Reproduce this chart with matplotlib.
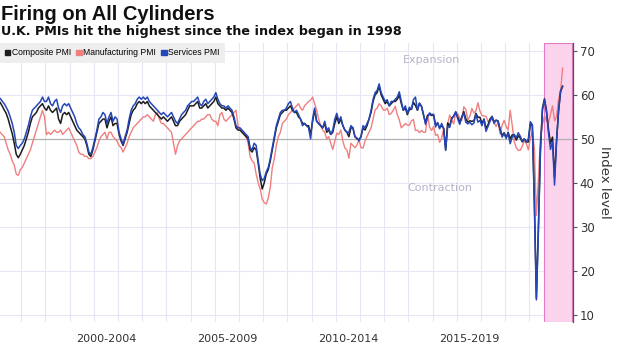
import numpy as np
import matplotlib
matplotlib.use("Agg")
import matplotlib.pyplot as plt
from matplotlib.patches import Patch
from matplotlib import font_manager

# monthly PMI readings, Jan 1998 - May 2021
services = [
    59.5, 59.2, 58.6, 58.0, 57.2, 56.3, 55.0, 53.5, 51.5, 48.5, 47.8, 48.5,  # 1998
    49.0, 50.0, 51.5, 53.0, 55.0, 56.5, 57.0, 57.5, 58.0, 58.5, 59.5, 58.5,  # 1999
    58.5, 59.5, 58.0, 57.5, 58.5, 59.0, 57.0, 56.0, 57.5, 58.0, 57.5, 58.0,  # 2000
    57.0, 56.0, 55.0, 53.5, 52.5, 52.0, 51.0, 50.5, 49.0, 47.0, 46.5, 48.0,  # 2001
    50.0, 52.0, 54.5, 55.0, 56.0, 55.5, 53.5, 55.0, 56.0, 54.0, 55.0, 54.5,  # 2002
    51.5, 50.0, 48.8, 50.5, 52.0, 54.5, 56.5, 57.5, 58.0, 59.0, 59.5, 59.0,  # 2003
    59.5, 59.0, 59.5, 58.5, 58.0, 57.5, 57.0, 56.5, 56.0, 55.5, 56.0, 55.5,  # 2004
    55.0, 55.5, 56.0, 55.0, 54.0, 53.5, 54.5, 55.5, 56.0, 56.5, 57.5, 58.0,  # 2005
    58.5, 58.5, 59.0, 59.5, 58.0, 57.5, 58.5, 59.0, 58.0, 58.5, 59.0, 59.5,  # 2006
    60.5, 59.0, 58.0, 57.5, 57.5, 57.0, 57.5, 57.0, 56.5, 55.0, 53.0, 52.5,  # 2007
    52.5, 52.0, 51.5, 51.0, 50.5, 48.0, 47.5, 49.0, 48.5, 45.0, 42.0, 40.5,  # 2008
    41.0, 42.5, 43.5, 45.5, 48.0, 50.5, 53.0, 54.5, 56.0, 56.5, 56.5, 57.0,  # 2009
    58.0, 58.5, 57.0, 56.0, 56.5, 55.5, 54.5, 53.0, 53.5, 53.0, 52.5, 50.0,  # 2010
    54.5, 57.0, 54.0, 53.5, 53.0, 52.5, 54.0, 52.0, 52.5, 51.0, 52.0, 54.5,  # 2011
    55.8, 54.0, 55.0, 53.0, 52.0, 51.5, 51.5, 53.0, 52.5, 50.5, 50.2, 49.5,  # 2012
    50.5, 53.0, 52.5, 53.5, 54.5, 56.5, 59.0, 60.5, 61.0, 62.5, 60.5, 59.5,  # 2013
    58.5, 58.9, 57.5, 58.5, 58.5, 59.0, 59.5, 60.7, 58.5, 56.5, 57.5, 55.8,  # 2014
    57.2, 56.7, 58.9, 59.5, 56.5, 58.1, 57.4, 55.6, 53.3, 54.9, 55.9, 55.5,  # 2015
    55.6, 52.7, 53.7, 52.3, 53.5, 52.3, 47.4, 52.9, 52.6, 54.5, 55.2, 56.2,  # 2016
    54.5, 53.3, 55.0, 55.8, 53.8, 53.4, 53.8, 53.2, 53.6, 55.6, 53.8, 54.2,  # 2017
    53.0, 54.5, 51.7, 52.8, 54.0, 55.1, 53.5, 54.3, 53.9, 52.2, 50.4, 51.2,  # 2018
    50.1, 51.3, 48.9, 50.4, 51.0, 50.2, 51.4, 50.6, 49.5, 50.0, 49.3, 50.0,  # 2019
    53.9, 53.2, 34.5, 13.4, 29.0, 47.1, 56.5, 58.8, 56.1, 51.4, 47.6, 49.4,  # 2020
    39.5, 49.5, 56.3, 61.0, 61.8,                                            # 2021
]
composite = [
    58.6, 58.3, 57.5, 56.6, 55.8, 54.5, 52.8, 51.2, 49.0, 46.5, 45.7, 46.5,
    47.5, 48.5, 50.0, 51.5, 53.5, 55.0, 55.5, 56.0, 57.0, 57.5, 58.0, 57.0,
    56.5, 57.5, 56.5, 56.0, 56.5, 57.0, 54.5, 53.5, 55.5, 56.0, 55.5, 56.0,
    55.0, 54.0, 53.0, 52.0, 51.5, 51.0, 50.5, 50.0, 48.5, 46.5, 46.0, 47.5,
    49.5, 51.5, 53.5, 54.0, 54.5, 54.5, 52.5, 54.0, 55.0, 53.0, 53.5, 53.5,
    51.0, 49.5, 48.5, 50.0, 51.5, 53.5, 55.5, 56.5, 57.0, 58.0, 58.5, 58.0,
    58.5, 58.0, 58.5, 57.5, 57.0, 56.5, 56.0, 55.5, 55.0, 54.5, 55.0, 54.5,
    54.0, 54.5, 55.0, 54.0, 53.0, 53.0, 54.0, 54.5, 55.0, 55.5, 56.5, 57.5,
    57.5, 57.5, 58.0, 58.5, 57.0, 57.0, 57.5, 58.0, 57.0, 57.5, 58.0, 58.5,
    59.5, 58.0, 57.5, 57.0, 57.0, 56.5, 57.0, 56.5, 56.0, 54.5, 52.5, 52.0,
    52.0, 51.5, 51.0, 50.5, 50.0, 47.5, 47.0, 48.0, 47.5, 44.5, 41.0, 38.6,
    40.0, 42.0, 43.0, 45.0, 47.5, 50.0, 52.5, 54.0, 55.5, 56.0, 56.5, 56.5,
    57.0, 57.5, 56.5, 56.0, 56.0, 55.0, 54.5, 53.5, 53.5, 53.0, 53.0, 51.0,
    54.0, 56.5, 54.0, 53.5, 53.0, 52.5, 53.5, 51.5, 52.0, 51.0, 51.5, 53.5,
    55.0, 53.5, 54.5, 53.0, 52.0, 51.5, 50.5, 52.5, 52.5, 50.5, 50.0, 49.8,
    50.5, 52.5, 52.0, 53.0, 54.5, 56.0, 58.5, 60.0, 60.5, 62.0, 60.0, 59.0,
    58.0, 58.5, 57.5, 58.0, 58.5, 58.5, 59.0, 60.0, 58.0, 56.5, 57.0, 55.5,
    56.7, 56.7, 58.3, 57.6, 56.5, 58.1, 57.4, 55.4, 53.7, 55.3, 55.6, 55.3,
    55.4, 53.2, 53.6, 52.5, 53.0, 52.4, 47.5, 53.6, 52.9, 54.7, 55.2, 56.0,
    54.9, 53.8, 54.9, 56.2, 54.5, 53.8, 54.1, 54.0, 54.1, 55.8, 54.9, 54.9,
    53.5, 54.5, 52.4, 53.2, 54.5, 55.1, 53.9, 54.2, 54.1, 52.1, 50.8, 51.4,
    50.3, 51.5, 50.0, 50.9, 50.9, 49.7, 50.7, 50.2, 49.3, 50.0, 49.3, 49.3,
    53.3, 53.0, 36.0, 13.8, 30.0, 47.7, 57.0, 59.1, 56.5, 52.1, 49.0, 50.4,
    41.2, 49.6, 56.4, 60.7, 62.0,
]
manufacturing = [
    52.0, 51.5, 51.0, 50.5, 49.0, 47.5, 46.5, 45.0, 44.0, 42.0, 41.7, 43.0,
    43.5, 44.5, 45.5, 46.5, 47.5, 49.0, 50.5, 52.0, 53.5, 55.0, 56.5, 55.0,
    51.0, 51.5, 51.0, 51.5, 52.0, 51.5, 51.5, 52.0, 51.0, 51.5, 52.0, 52.5,
    51.5, 50.5, 49.5, 48.5, 47.0, 46.5, 46.5, 46.0, 46.0, 45.5, 45.5, 46.0,
    47.0, 48.0, 49.5, 50.5, 51.0, 51.5, 50.0, 51.5, 51.5, 50.5, 50.0, 49.5,
    48.5, 48.0, 47.0, 48.0, 49.0, 50.5, 51.5, 52.5, 53.0, 53.5, 54.0, 54.5,
    55.0, 55.0, 55.5, 55.0, 54.5, 54.0, 55.5, 56.0, 54.5, 53.5, 53.5, 53.0,
    52.5, 52.0, 51.5, 49.0, 46.5, 48.5, 49.5, 50.0, 50.5, 51.0, 51.5, 52.0,
    52.5, 53.0, 53.5, 54.0, 54.0, 54.5, 54.5, 55.0, 55.5, 55.5, 54.5, 54.0,
    54.0, 53.0, 55.5, 56.0, 54.5, 54.0, 54.5, 55.0, 55.5, 56.0, 56.5, 53.0,
    52.0, 51.5, 51.0, 50.5, 49.0, 46.0, 45.0, 44.5, 42.0, 40.0, 38.6, 36.3,
    35.5, 35.2, 36.5, 39.0, 43.5, 45.5, 48.5, 50.5, 51.5, 53.5, 54.0, 54.5,
    55.5, 56.0, 56.5, 57.0, 57.5, 58.0, 57.0, 56.5, 57.5, 58.0, 58.5, 58.8,
    59.5, 58.0, 56.5, 54.5, 53.0, 52.0, 51.5, 50.0, 50.5, 49.0, 47.6, 49.5,
    51.3, 51.0, 52.0, 49.5, 47.9, 47.5, 45.6, 49.0, 48.5, 48.0, 48.6, 49.8,
    48.0, 47.9, 49.5, 50.6, 51.5, 52.5, 54.5, 56.6, 57.0, 58.0, 57.5, 56.6,
    56.5, 57.0, 55.5, 55.8, 56.5, 57.4, 55.5, 54.3, 52.5, 53.0, 53.5, 53.1,
    53.1, 54.1, 54.4, 51.9, 52.0, 51.4, 51.9, 51.5, 51.5, 55.5, 52.7, 51.9,
    52.8, 50.8, 51.0, 49.2, 50.1, 52.4, 48.3, 53.4, 55.4, 54.3, 53.4, 56.1,
    55.7, 54.6, 54.2, 57.3, 56.7, 54.3, 55.1, 56.9, 55.9, 56.3, 58.2, 56.3,
    55.3, 55.2, 55.1, 53.9, 54.4, 54.4, 53.8, 52.8, 53.8, 51.1, 53.1, 54.2,
    52.8, 52.0, 56.5, 53.1, 49.4, 48.0, 47.4, 47.4, 48.3, 49.6, 48.9, 47.5,
    50.0, 51.7, 47.8, 32.6, 40.7, 50.1, 53.3, 55.2, 54.1, 53.7, 55.6, 57.5,
    54.1, 55.1, 58.9, 60.9, 66.1,
]
period_labels = ["2000-2004", "2005-2009", "2010-2014", "2015-2019"]
period_mid = [2002.5, 2007.5, 2012.5, 2017.5]
y_ticks = [10, 20, 30, 40, 50, 60, 70]

t = 1998 + (np.arange(len(services)) + 0.5) / 12

installed = {f.name for f in font_manager.fontManager.ttflist}
narrow = "Liberation Sans Narrow" if "Liberation Sans Narrow" in installed else "Liberation Sans"

fig = plt.figure(figsize=(6.2, 3.51), dpi=100)
ax = fig.add_axes([0.0, 0.083, 0.924, 0.794])

grid_c = "#e8e6f2"
for yr in range(1999, 2022):
    ax.axvline(yr, color=grid_c, lw=0.8, zorder=0)
for yv in y_ticks:
    if yv != 50:
        ax.axhline(yv, color=grid_c, lw=0.8, zorder=0)
ax.axhline(50, color="#b0b0b0", lw=0.9, zorder=1)

ax.axvspan(2020.6, 2021.77, facecolor="#fcd3ec", edgecolor="#e27ac6", lw=0.8, zorder=0.5)

c_comp, c_man, c_serv = "#1c1c1c", "#f07f7f", "#2546b8"
ax.plot(t, manufacturing, color=c_man, lw=1.0, zorder=2)
ax.plot(t, composite, color=c_comp, lw=1.1, zorder=3)
ax.plot(t, services, color=c_serv, lw=1.1, zorder=4)

ax.set_xlim(1998.12, 2021.8)
ax.set_ylim(8.4, 71.75)

ax.yaxis.tick_right()
ax.yaxis.set_label_position("right")
ax.set_yticks(y_ticks)
ax.tick_params(axis="y", direction="out", length=3, width=0.8, color="#555555",
               labelsize=8.5, labelcolor="#333333", pad=2)
ax.set_ylabel("Index level", rotation=270, fontsize=9.5, color="#333333", labelpad=12)
ax.set_xticks(period_mid)
ax.set_xticklabels(period_labels)
ax.tick_params(axis="x", length=0, labelsize=8, labelcolor="#333333", pad=9)
for s in ["top", "left", "bottom"]:
    ax.spines[s].set_visible(False)
ax.spines["right"].set_color("#555555")
ax.spines["right"].set_linewidth(0.9)

ax.text(2015.97, 67.9, "Expansion", ha="center", va="center", fontsize=8, color="#b8b2c8")
ax.text(2016.3, 38.8, "Contraction", ha="center", va="center", fontsize=8, color="#b8b2c8")

handles = [Patch(color=c_comp), Patch(color=c_man), Patch(color=c_serv)]
leg = ax.legend(handles, ["Composite PMI", "Manufacturing PMI", "Services PMI"],
                loc="upper left", ncol=3, frameon=True, fancybox=False,
                prop={"family": narrow, "size": 6.2},
                handlelength=0.6, handleheight=0.6, handletextpad=0.2,
                columnspacing=0.6, borderaxespad=0.0, borderpad=0.6)
leg.get_frame().set_facecolor("#eeeeee")
leg.get_frame().set_edgecolor("none")
leg.get_frame().set_alpha(1)

fig.text(0.002, 0.985, "Firing on All Cylinders", fontsize=14.5, fontweight="bold",
         family="Liberation Sans", va="top", ha="left", color="#111111")
fig.text(0.002, 0.93, "U.K. PMIs hit the highest since the index began in 1998",
         fontsize=9.2, fontweight="bold", va="top", ha="left", color="#111111")

fig.savefig("out.png", dpi=100)
